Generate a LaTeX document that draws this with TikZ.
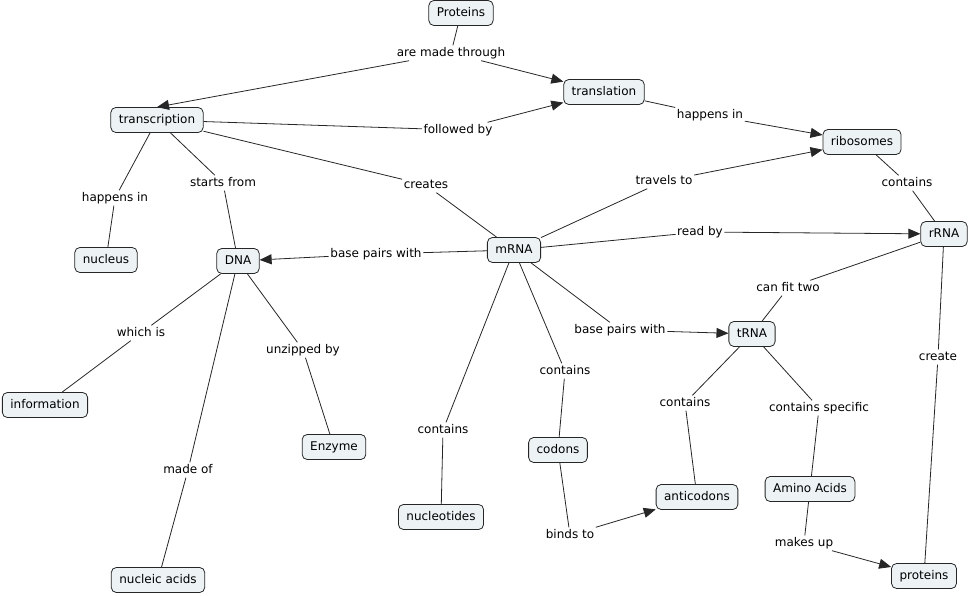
\documentclass[tikz,border=0pt]{standalone}
\usepackage{fontspec}
\setmainfont{DejaVu Sans}
\usetikzlibrary{arrows.meta}
\definecolor{cmapfill}{RGB}{237,243,245}
\tikzset{
	concept/.style={draw=black!85, fill=cmapfill, rounded corners=5pt, line width=0.8pt,
		inner xsep=8pt, inner ysep=0pt, minimum height=25pt, text height=9.5pt, text depth=2.5pt,
		font=\fontsize{12}{14}\selectfont},
	phrase/.style={inner sep=1.5pt, text height=9.5pt, text depth=2.5pt, font=\fontsize{12}{14}\selectfont},
	cline/.style={draw=black!85, line width=0.8pt},
	toarrow/.style={cline, -{Triangle[length=12pt,width=10pt]}}
}

\begin{document}
\begin{tikzpicture}[x=1pt, y=-1pt]
		%%%%% START %%%%%
		\useasboundingbox (0, 0) rectangle (969, 596);
		
		% concepts
		\node[concept] (proteinsTop) at (461, 13) {Proteins};
		\node[concept] (translation) at (604, 92) {translation};
		\node[concept] (transcription) at (157, 120) {transcription};
		\node[concept] (ribosomes) at (862, 142) {ribosomes};
		\node[concept] (rRNA) at (944, 234) {rRNA};
		\node[concept] (nucleus) at (106, 260) {nucleus};
		\node[concept] (DNA) at (238, 261) {DNA};
		\node[concept] (mRNA) at (514, 250) {mRNA};
		\node[concept] (tRNA) at (752, 334) {tRNA};
		\node[concept] (information) at (45, 405) {information};
		\node[concept] (enzyme) at (334, 447) {Enzyme};
		\node[concept] (nucleic) at (158, 580) {nucleic acids};
		\node[concept] (nucleotides) at (441, 517) {nucleotides};
		\node[concept] (codons) at (558, 450) {codons};
		\node[concept] (anticodons) at (697, 497) {anticodons};
		\node[concept] (amino) at (810, 489) {Amino Acids};
		\node[concept] (proteins) at (924, 576) {proteins};
		
		% linking phrases
		\node[phrase] (madeThrough) at (451, 53) {are made through};
		\node[phrase] (followedBy) at (458, 130) {followed by};
		\node[phrase] (happensRib) at (710, 115) {happens in};
		\node[phrase] (happensNuc) at (115, 198) {happens in};
		\node[phrase] (startsFrom) at (223, 183) {starts from};
		\node[phrase] (creates) at (426, 185) {creates};
		\node[phrase] (pairsDNA) at (376, 254) {base pairs with};
		\node[phrase] (travelsTo) at (664, 181) {travels to};
		\node[phrase] (readBy) at (700, 232) {read by};
		\node[phrase] (ribContains) at (907, 183) {contains};
		\node[phrase] (fitTwo) at (788, 288) {can fit two};
		\node[phrase] (whichIs) at (141, 333) {which is};
		\node[phrase] (unzipped) at (303, 350) {unzipped by};
		\node[phrase] (madeOf) at (188, 470) {made of};
		\node[phrase] (pairsTRNA) at (620, 330) {base pairs with};
		\node[phrase] (codContains) at (565, 371) {contains};
		\node[phrase] (nucContains) at (443, 430) {contains};
		\node[phrase] (bindsTo) at (570, 535) {binds to};
		\node[phrase] (antiContains) at (685, 403) {contains};
		\node[phrase] (specific) at (819, 408) {contains specific};
		\node[phrase] (create) at (938, 357) {create};
		\node[phrase] (makesUp) at (804, 543) {makes up};
		
		% connectors
		\draw[cline] (proteinsTop) -- (madeThrough);
		\draw[toarrow] (madeThrough) -- (transcription.north);
		\draw[toarrow] (madeThrough) -- (translation);
		
		\draw[cline] (transcription) -- (followedBy);
		\draw[toarrow] (followedBy) -- (translation);
		\draw[cline] (translation) -- (happensRib);
		\draw[toarrow] (happensRib) -- (ribosomes);
		
		\draw[cline] (transcription) -- (happensNuc) -- (nucleus);
		\draw[cline] (transcription) -- (startsFrom) -- (DNA);
		\draw[cline] (transcription) -- (creates) -- (mRNA);
		
		\draw[cline] (mRNA) -- (pairsDNA);
		\draw[toarrow] (pairsDNA) -- (DNA);
		\draw[cline] (mRNA) -- (travelsTo);
		\draw[toarrow] (travelsTo) -- (ribosomes);
		\draw[cline] (mRNA) -- (readBy);
		\draw[toarrow] (readBy) -- (rRNA);
		
		\draw[cline] (ribosomes) -- (ribContains) -- (rRNA);
		\draw[cline] (rRNA) -- (fitTwo) -- (tRNA);
		\draw[cline] (rRNA) -- (create) -- (proteins);
		
		\draw[cline] (DNA) -- (whichIs) -- (information);
		\draw[cline] (DNA) -- (madeOf) -- (nucleic);
		\draw[cline] (DNA) -- (unzipped) -- (enzyme);
		
		\draw[cline] (mRNA) -- (pairsTRNA);
		\draw[toarrow] (pairsTRNA) -- (tRNA);
		\draw[cline] (mRNA) -- (codContains) -- (codons);
		\draw[cline] (mRNA) -- (nucContains) -- (nucleotides);
		\draw[cline] (codons) -- (bindsTo);
		\draw[toarrow] (bindsTo) -- (anticodons);
		
		\draw[cline] (tRNA) -- (antiContains) -- (anticodons);
		\draw[cline] (tRNA) -- (specific) -- (amino);
		\draw[cline] (amino) -- (makesUp);
		\draw[toarrow] (makesUp) -- (proteins);
		%%%%% END %%%%%
	\end{tikzpicture}
\end{document}
